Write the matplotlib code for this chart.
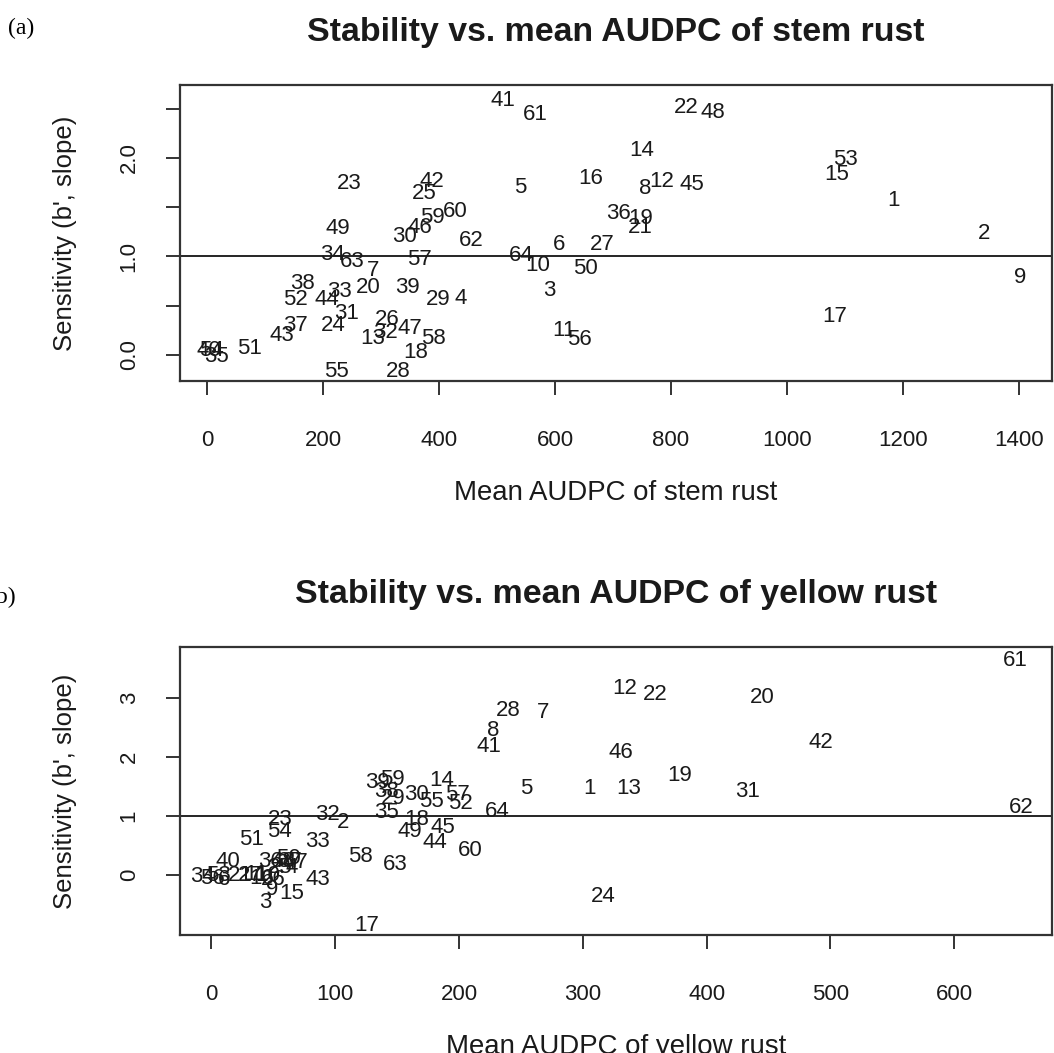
import numpy as np
import matplotlib.pyplot as plt

plt.rcParams['font.family'] = ['Liberation Sans', 'DejaVu Sans']

# ---- panel (a): stem rust ----
stem_id = list(range(1, 65))
stem_audpc = [1183, 1340, 591, 438, 540, 607, 286, 755, 1402, 571,
              616, 784, 286, 750, 1086, 662, 1083, 359, 748, 278,
              747, 826, 245, 217, 374, 310, 681, 329, 398, 341,
              241, 307, 229, 216, 16, 710, 152, 164, 345, 3,
              510, 388, 129, 207, 836, 367, 350, 872, 226, 652,
              74, 152, 1100, 7, 224, 643, 367, 390, 388, 428,
              566, 455, 250, 541]
stem_slope = [1.57, 1.23, 0.65, 0.57, 1.70, 1.12, 0.86, 1.69, 0.79, 0.91,
              0.25, 1.76, 0.17, 2.08, 1.83, 1.79, 0.39, 0.03, 1.39, 0.68,
              1.29, 2.51, 1.74, 0.30, 1.64, 0.36, 1.12, -0.17, 0.56, 1.20,
              0.42, 0.23, 0.64, 1.02, -0.02, 1.44, 0.30, 0.73, 0.68, 0.05,
              2.58, 1.76, 0.20, 0.56, 1.73, 1.29, 0.27, 2.46, 1.28, 0.88,
              0.07, 0.56, 1.98, 0.05, -0.17, 0.16, 0.97, 0.17, 1.40, 1.46,
              2.44, 1.16, 0.95, 1.01]

# ---- panel (b): yellow rust ----
yellow_id = list(range(1, 65))
yellow_audpc = [305.7, 106.2, 43.2, 65.0, 254.0, 10.1, 267.8, 227.4, 48.9, 45.6,
                36.0, 334.0, 337.2, 186.2, 65.0, 40.8, 125.6, 166.0, 378.4, 444.6,
                23.0, 358.2, 55.3, 316.2, 55.3, 49.7, 31.1, 239.5, 146.6, 166.0,
                433.4, 94.1, 86.0, -6.9, 141.8, 47.3, 63.4, 141.0, 133.7, 13.3,
                224.1, 492.3, 86.0, 180.5, 187.0, 330.8, 68.3, 57.8, 160.3, 61.8,
                32.7, 201.5, 5.3, 55.3, 178.1, 0.4, 199.1, 120.0, 145.8, 208.8,
                649.0, 653.9, 148.2, 230.6]
yellow_slope = [1.46, 0.88, -0.47, 0.12, 1.46, -0.08, 2.75, 2.44, -0.25, -0.02,
                0.00, 3.15, 1.46, 1.59, -0.32, -0.07, -0.86, 0.93, 1.69, 3.00,
                -0.02, 3.05, 0.93, -0.37, 0.12, -0.08, -0.02, 2.78, 1.29, 1.36,
                1.41, 1.02, 0.56, -0.03, 1.05, 0.22, 0.22, 1.41, 1.56, 0.22,
                2.17, 2.24, -0.08, 0.54, 0.80, 2.08, 0.20, 0.22, 0.73, 0.27,
                0.59, 1.20, -0.02, 0.73, 1.25, -0.07, 1.36, 0.31, 1.61, 0.42,
                3.63, 1.14, 0.17, 1.07]

W, H = 1054, 1053
fig = plt.figure(figsize=(W / 100, H / 100), dpi=100)

txt_col = '#1a1a1a'
box_col = '#333333'


def panel(rect, ids, xs, ys, xlim, ylim, xticks, yticks, ylabs, title, xlabel):
    ax = fig.add_axes(rect)
    ax.set_xlim(xlim)
    ax.set_ylim(ylim)
    # genotype numbers drawn at their (AUDPC, slope) position
    for i, x, y in zip(ids, xs, ys):
        ax.text(x, y, str(i), ha='center', va='center', fontsize=16,
                color=txt_col, clip_on=False)
    ax.axhline(1, color='black', lw=1.2)
    for s in ax.spines.values():
        s.set_color(box_col)
        s.set_linewidth(1.6)
    ax.set_xticks(xticks)
    ax.set_yticks(yticks)
    ax.set_yticklabels(ylabs, rotation=90, va='center')
    ax.tick_params(axis='both', length=10, width=1.4, color=box_col,
                   labelsize=16, labelcolor=txt_col)
    ax.tick_params(axis='x', pad=25)
    ax.tick_params(axis='y', pad=19)
    ax.set_title(title, fontsize=24.4, fontweight='bold', color=txt_col, pad=32)
    ax.set_xlabel(xlabel, fontsize=19.9, color=txt_col, labelpad=21)
    ax.set_ylabel("Sensitivity (b', slope)", fontsize=18.5, color=txt_col,
                  labelpad=30)
    return ax


ax1 = panel([180 / W, 1 - 381 / H, 872 / W, 296 / H],
            stem_id, stem_audpc, stem_slope,
            (-46.6, 1457), (-0.264, 2.74),
            [0, 200, 400, 600, 800, 1000, 1200, 1400],
            [0, 0.5, 1, 1.5, 2, 2.5], ['0.0', '', '1.0', '', '2.0', ''],
            'Stability vs. mean AUDPC of stem rust', 'Mean AUDPC of stem rust')

ax2 = panel([180 / W, 1 - 935 / H, 872 / W, 288 / H],
            yellow_id, yellow_audpc, yellow_slope,
            (-25.4, 679), (-1.02, 3.86),
            [0, 100, 200, 300, 400, 500, 600],
            [0, 1, 2, 3], ['0', '1', '2', '3'],
            'Stability vs. mean AUDPC of yellow rust',
            'Mean AUDPC of yellow rust')

fig.text(8 / W, 1 - 28 / H, '(a)', fontsize=17, family='Liberation Serif',
         ha='left', va='center', color='black')
fig.text(-12 / W, 1 - 597 / H, '(b)', fontsize=17, family='Liberation Serif',
         ha='left', va='center', color='black')

fig.savefig('out.png', dpi=100)
